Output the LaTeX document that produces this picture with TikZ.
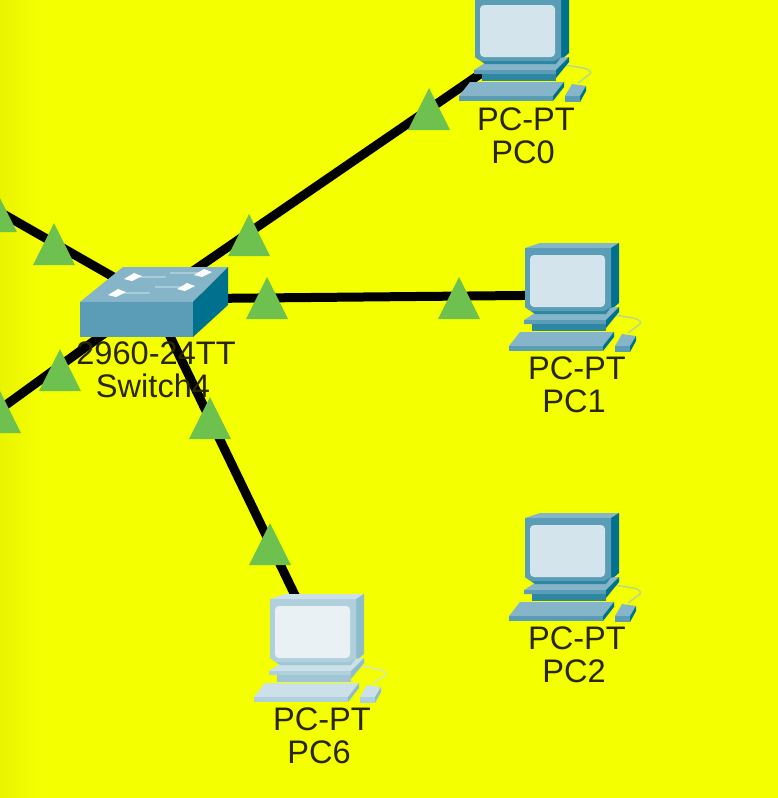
\documentclass[tikz,border=0pt]{standalone}
\usepackage{fontspec}
\setmainfont{Liberation Sans}
\definecolor{bgyellow}{HTML}{F4FF00}
\definecolor{bgedge}{HTML}{EAF400}
\definecolor{linkgreen}{HTML}{6FC14F}
\definecolor{labeldark}{HTML}{2A2600}
\definecolor{switchtop}{HTML}{86B4C8}
\definecolor{switchfront}{HTML}{5B9DB6}
\definecolor{switchside}{HTML}{00708F}
\definecolor{switchport}{HTML}{A9CCD9}
\tikzset{
  device/.style = {inner sep = 0pt, minimum size = 50pt},
  devlabel/.style = {inner sep = 0pt, text = labeldark, font = \fontsize{32.6}{33}\selectfont},
  link/.style = {line width = 9pt},
  normalicon/.code = {
    \definecolor{icontop}{HTML}{86B4C8}
    \definecolor{iconfront}{HTML}{5B9DB6}
    \definecolor{iconside}{HTML}{00708F}
    \definecolor{iconband}{HTML}{2D87A3}
    \definecolor{iconscreen}{HTML}{D3E4EC}
    \definecolor{iconcable}{HTML}{B9D98A}
  },
  paleicon/.code = {
    \definecolor{icontop}{HTML}{CBE0E8}
    \definecolor{iconfront}{HTML}{B0D0DC}
    \definecolor{iconside}{HTML}{8FBCCB}
    \definecolor{iconband}{HTML}{A0C6D4}
    \definecolor{iconscreen}{HTML}{E9F1F5}
    \definecolor{iconcable}{HTML}{D5E8B8}
  }
}
\newcommand{\drawpc}[2]{
  \begin{scope}[shift = {(#1)}, #2]
    \draw [iconcable, line width = 1.5pt] (91, 72) -- (109, 75) .. controls (115, 76) and (118, 79) .. (116, 81) -- (104, 90);
    \fill [icontop] (1, 5) -- (16, 0) -- (95, 0) -- (87, 5) -- cycle;
    \fill [iconside] (87, 5) -- (95, 0) -- (95, 60) -- (82, 71) -- (87, 64) -- cycle;
    \fill [icontop] (0, 77) -- (11, 70) -- (95, 64) -- (82, 81) -- (0, 81) -- cycle;
    \fill [iconfront] (0, 77) rectangle (82, 81);
    \fill [iconside] (82, 77) -- (95, 64) -- (95, 69) -- (82, 85) -- cycle;
    \fill [iconband] (8, 81) rectangle (82, 88);
    \fill [iconband] (1, 60) -- (87, 60) -- (87, 64) -- (82, 71) -- (11, 71) -- (1, 64) -- cycle;
    \fill [iconfront] (1, 5) -- (87, 5) -- (87, 64) -- (80, 68) -- (7, 68) -- (1, 64) -- cycle;
    \fill [iconscreen, rounded corners = 4pt] (6, 12) rectangle (81, 64);
    \fill [icontop] (-4, 89) -- (90, 89) -- (79, 103) -- (-15, 103) -- cycle;
    \fill [iconfront] (-15, 103) rectangle (79, 108);
    \fill [iconside] (90, 89) -- (90, 94) -- (79, 108) -- (79, 103) -- cycle;
    \fill [icontop] (98, 91) -- (112, 93) -- (106, 103) -- (91, 103) -- cycle;
    \fill [iconfront] (91, 103) rectangle (106, 109);
    \fill [iconside] (112, 93) -- (112, 98) -- (106, 109) -- (106, 103) -- cycle;
  \end{scope}
}
\begin{document}
\begin{tikzpicture}[x = 1pt, y = -1pt]
  \useasboundingbox (0, 0) rectangle (778, 798);
  \clip (0, 0) rectangle (778, 798);
  \fill [bgyellow] (0, 0) rectangle (778, 798);
  \fill [left color = bgedge, right color = bgyellow] (0, 0) rectangle (40, 798);

  \node [device] (pc0) at (524, 44) {};
  \node [device] (pc1) at (574, 295) {};
  \node [device] (pc2) at (574, 564) {};
  \node [device] (pc6) at (319, 645) {};
  \node [device] (switch4) at (152, 299) {};
  \coordinate (uplink) at (-30, 195);
  \coordinate (downlink) at (-30, 431);

  \draw [link] (switch4) -- (pc0);
  \draw [link] (switch4) -- (pc1);
  \draw [link] (switch4) -- (pc6);
  \draw [link] (switch4) -- (uplink);
  \draw [link] (switch4) -- (downlink);

  \foreach \tipx/\tipy in {429/88, 249/214, 267/277, 459/277, 54/223, 60/349, 210/397, 270/523, -4/190, 0/391}
    \fill [linkgreen] (\tipx, \tipy) -- ++(21, 42) -- ++(-42, 0) -- cycle;

  \drawpc{474, -7}{normalicon}
  \drawpc{524, 243}{normalicon}
  \drawpc{524, 513}{normalicon}
  \drawpc{269, 594}{paleicon}

  \fill [switchtop] (80, 302) -- (123, 267) -- (228, 267) -- (193, 302) -- cycle;
  \fill [switchfront] (80, 302) rectangle (193, 337);
  \fill [switchside] (193, 302) -- (228, 267) -- (228, 305) -- (193, 337) -- cycle;
  \foreach \ax/\ay/\bx in {133/277/166, 203/273/170, 117/293/150, 186/287/155} {
    \draw [switchport, line width = 2pt] (\ax, \ay) -- (\bx, \ay);
    \fill [white] (\ax - 9, \ay + 2) -- (\ax + 1, \ay - 4) -- (\ax + 9, \ay - 1) -- (\ax - 1, \ay + 4) -- cycle;
  }

  \node [devlabel] (pc0model) at (526, 119) {PC-PT};
  \node [devlabel] (pc0name) at (523, 152) {PC0};
  \node [devlabel] (pc1model) at (577, 368) {PC-PT};
  \node [devlabel] (pc1name) at (574, 401) {PC1};
  \node [devlabel] (pc2model) at (577, 638) {PC-PT};
  \node [devlabel] (pc2name) at (574, 671) {PC2};
  \node [devlabel] (pc6model) at (322, 719) {PC-PT};
  \node [devlabel] (pc6name) at (319, 752) {PC6};
  \node [devlabel] (switch4model) at (156, 353) {2960-24TT};
  \node [devlabel] (switch4name) at (153, 386) {Switch4};
\end{tikzpicture}
\end{document}
